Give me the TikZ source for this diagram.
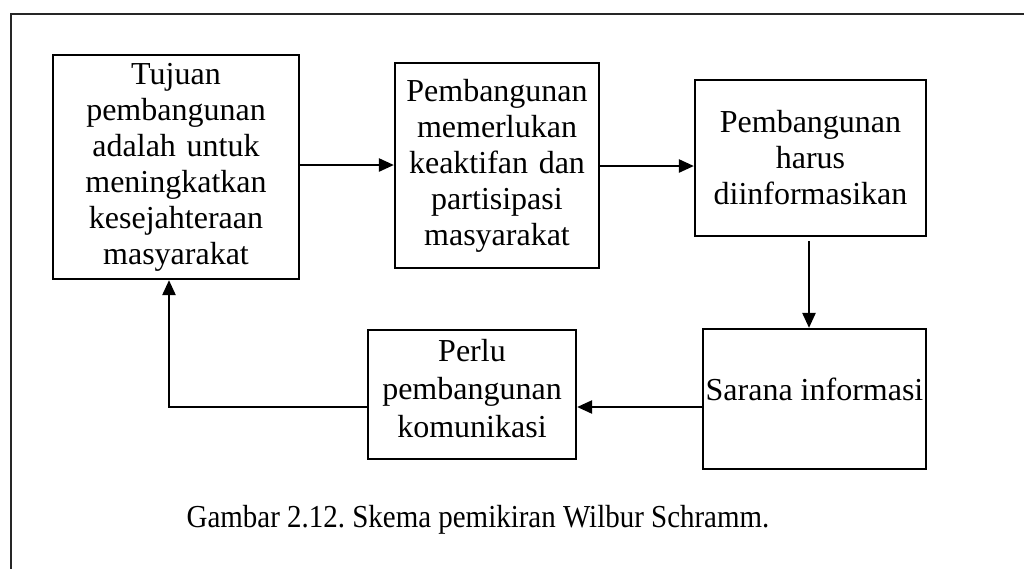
\documentclass[tikz,border=0pt]{standalone}
\usepackage{fontspec}
\setmainfont{Liberation Serif}
\usetikzlibrary{arrows.meta}
\frenchspacing
\begin{document}
\begin{tikzpicture}[x=1pt,y=-1pt,
  box/.style={draw=black,line width=2.2pt,inner sep=0pt,align=center,
    font=\fontsize{32}{36}\selectfont},
  boxtext/.style={align=center,inner sep=0pt,font=\fontsize{32}{38}\selectfont},
  flow/.style={line width=2.4pt,-{Triangle[length=15pt,width=13pt]}},
  frame/.style={draw=black!85,line width=2.2pt}]
\useasboundingbox (0,0) rectangle (1024,568);
% outer frame (open on the right and at the bottom)
\draw[frame] (11,570) -- (11,14) -- (1026,14);

% boxes
\node[box,minimum width=246pt,minimum height=224pt,text width=240pt] (tujuan) at (176,167)
  {Tujuan\\pembangunan\\adalah untuk\\meningkatkan\\kesejahteraan\\masyarakat};
\node[box,minimum width=204pt,minimum height=205pt,text width=200pt] (partisipasi) at (497,165.5)
  {Pembangunan\\memerlukan\\keaktifan dan\\partisipasi\\masyarakat};
\node[box,minimum width=231pt,minimum height=156pt,text width=226pt] (informasi) at (810.5,158)
  {Pembangunan\\harus\\diinformasikan};
\node[box,minimum width=223pt,minimum height=140pt,
  label={[boxtext,yshift=10pt]center:Sarana informasi}] (sarana) at (814.5,399) {};
\node[box,minimum width=208pt,minimum height=129pt,
  label={[boxtext,yshift=6pt]center:Perlu\\pembangunan\\komunikasi}] (komunikasi) at (472,394.5) {};

% connectors
\coordinate (bend) at (169,407);
\draw[flow] (tujuan.east |- 0,165) -- (partisipasi.west |- 0,165);
\draw[flow] (partisipasi.east |- 0,166) -- (informasi.west |- 0,166);
\draw[flow] ([yshift=-4pt]informasi.south -| 809,0) -- (sarana.north -| 809,0);
\draw[flow] (sarana.west |- 0,407) -- (komunikasi.east |- 0,407);
\draw[flow] (komunikasi.west |- bend) -- (bend) -- (tujuan.south -| bend);

% caption
\node[font=\fontsize{32}{36}\selectfont,anchor=base] (caption) at (478,527)
  {\scalebox{0.905}[1]{Gambar 2.12. Skema pemikiran Wilbur Schramm.}};
\end{tikzpicture}
\end{document}
